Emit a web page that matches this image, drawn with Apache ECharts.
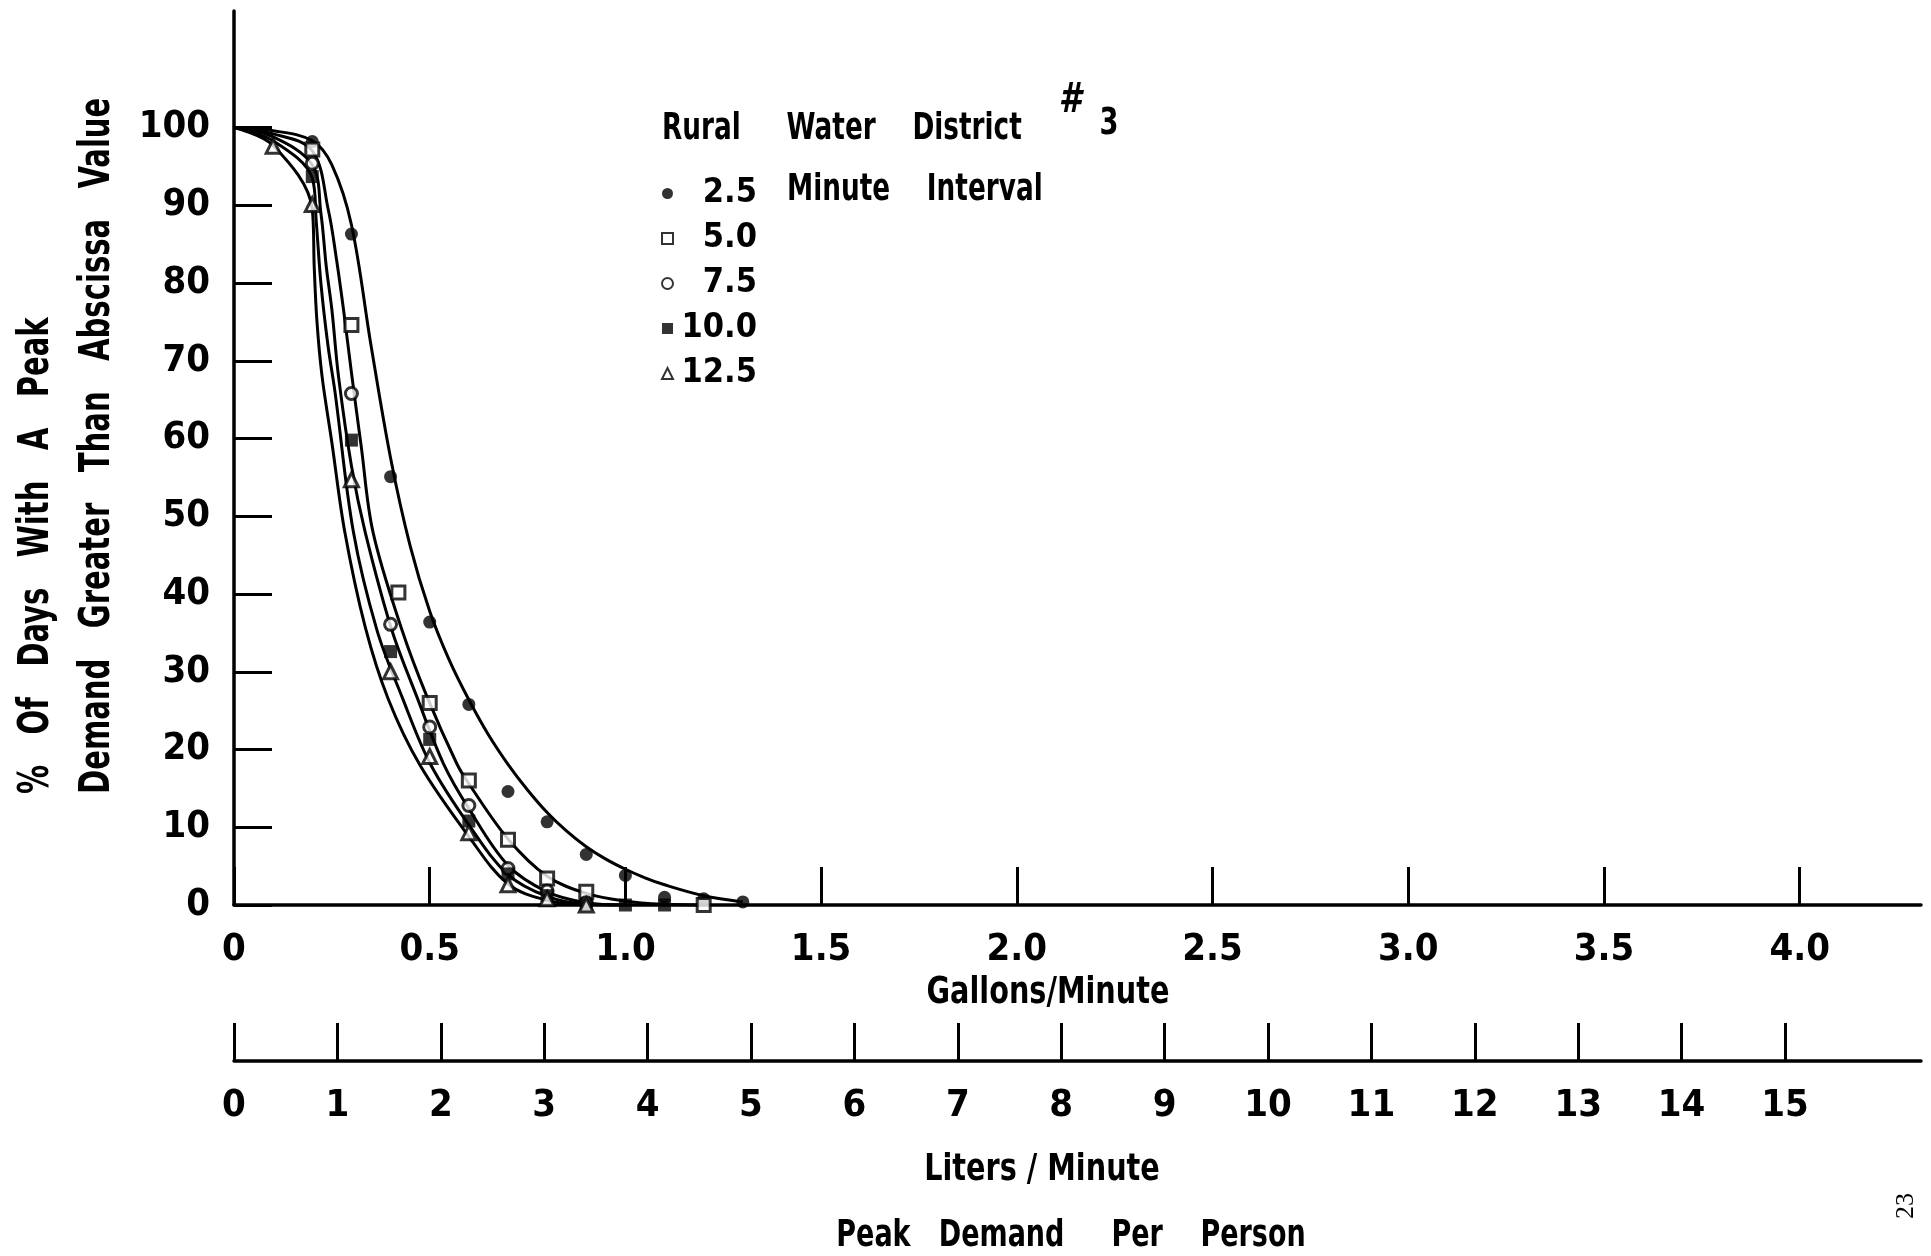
<!DOCTYPE html>
<html>
<head>
<meta charset="utf-8">
<script src="https://cdn.jsdelivr.net/npm/echarts@6/dist/echarts.min.js"></script>
<style>
  html, body { margin: 0; padding: 0; background: #fff; }
  #chart { width: 1931px; height: 1256px; }
</style>
</head>
<body>
<div id="chart"></div>
<script>
// Rural Water District #3 — peak demand per person, exceedance curves
// x: peak demand (gallons / minute), y: % of days with a greater peak demand

const intervals = ['2.5', '5.0', '7.5', '10.0', '12.5'];

// Observed points for each averaging interval (minutes)
const obs25  = [[0.2, 98.2], [0.3, 86.3], [0.4, 55.1], [0.5, 36.4], [0.6, 25.8], [0.7, 14.6],
                [0.8, 10.7], [0.9, 6.5], [1.0, 3.8], [1.1, 1.0], [1.2, 0.8], [1.3, 0.4]];
const obs50  = [[0.2, 97.2], [0.3, 74.6], [0.42, 40.2], [0.5, 26.0], [0.6, 16.0], [0.7, 8.4],
                [0.8, 3.4], [0.9, 1.7], [1.2, 0]];
const obs75  = [[0.2, 95.4], [0.3, 65.8], [0.4, 36.1], [0.5, 22.9], [0.6, 12.8], [0.7, 4.7],
                [0.8, 1.8], [0.9, 0.3]];
const obs100 = [[0.2, 93.7], [0.3, 59.8], [0.4, 32.6], [0.5, 21.3], [0.6, 10.8], [0.7, 4.0],
                [0.8, 1.2], [0.9, 0], [1.0, 0], [1.1, 0]];
const obs125 = [[0.1, 97.6], [0.2, 90.1], [0.3, 54.7], [0.4, 30.0], [0.5, 19.1], [0.6, 9.3],
                [0.7, 2.6], [0.8, 0.8], [0.9, 0]];

// Fitted curves through each set of points
const fit25  = [[0, 100], [0.1, 99.6], [0.2, 98.3], [0.25, 95.2], [0.3, 87.5], [0.35, 72], [0.4, 57.5],
                [0.45, 46.2], [0.5, 37.8], [0.55, 31.5], [0.6, 26.4], [0.65, 21.9], [0.7, 18.1],
                [0.75, 14.8], [0.8, 11.9], [0.85, 9.5], [0.9, 7.5], [0.95, 5.9], [1.0, 4.6],
                [1.05, 3.5], [1.1, 2.6], [1.2, 1.2], [1.3, 0.4]];
const fit50  = [[0, 100], [0.1, 99.2], [0.2, 97], [0.241, 89.4], [0.262, 83], [0.28, 76.5], [0.3, 68.5],
                [0.325, 59], [0.355, 48], [0.429, 35.4], [0.493, 26.8], [0.569, 18.2], [0.6, 15.6],
                [0.7, 8.5], [0.8, 3.7], [0.9, 1.5], [1.0, 0.5], [1.1, 0.1], [1.2, 0]];
const fit75  = [[0, 100], [0.1, 98.8], [0.2, 95.2], [0.222, 89], [0.236, 82], [0.25, 76.6], [0.267, 68],
                [0.3, 56.5], [0.335, 48], [0.403, 35.4], [0.467, 26.8], [0.535, 18.2], [0.6, 12.4],
                [0.7, 5.1], [0.8, 1.7], [0.9, 0.3], [1.0, 0]];
const fit100 = [[0, 100], [0.1, 98.3], [0.2, 93.5], [0.21, 88], [0.222, 80], [0.24, 72], [0.258, 66],
                [0.305, 48], [0.365, 35.4], [0.429, 26.8], [0.501, 18.2], [0.6, 10.3], [0.7, 3.9],
                [0.8, 1.1], [0.9, 0.1], [1.0, 0]];
const fit125 = [[0, 100], [0.1, 97.7], [0.2, 89.5], [0.205, 82], [0.212, 75], [0.225, 68], [0.25, 59.5],
                [0.283, 48], [0.335, 35.8], [0.394, 26.5], [0.475, 18], [0.6, 8.8], [0.7, 2.7],
                [0.8, 0.6], [0.9, 0]];

// Axis ticks
const percentTicks = [0, 10, 20, 30, 40, 50, 60, 70, 80, 90, 100];
const gallonTicks  = [0, 0.5, 1.0, 1.5, 2.0, 2.5, 3.0, 3.5, 4.0];
const literTicks   = [0, 1, 2, 3, 4, 5, 6, 7, 8, 9, 10, 11, 12, 13, 14, 15];

const GALLON_MAX = 4.31;
const LITERS_PER_GALLON = 3.78541;

const FONT = '"DejaVu Sans Condensed", "DejaVu Sans", sans-serif';

const observed = [obs25, obs50, obs75, obs100, obs125];
const fitted   = [fit25, fit50, fit75, fit100, fit125];

const markerStyle = [
  { symbol: 'circle',   size: 13, itemStyle: { color: '#000', borderColor: '#000', borderWidth: 0 } },
  { symbol: 'rect',     size: 13, itemStyle: { color: '#fff', borderColor: '#000', borderWidth: 3 } },
  { symbol: 'circle',   size: 12, itemStyle: { color: '#fff', borderColor: '#000', borderWidth: 3 } },
  { symbol: 'rect',     size: 13, itemStyle: { color: '#000', borderColor: '#000', borderWidth: 0 } },
  { symbol: 'triangle', size: 14, itemStyle: { color: '#fff', borderColor: '#000', borderWidth: 3 } }
];

const series = [];
intervals.forEach((name, i) => {
  series.push({
    type: 'line',
    name: name + ' curve',
    data: fitted[i],
    xAxisIndex: 0, yAxisIndex: 0,
    smooth: 0.35,
    symbol: 'none',
    silent: true,
    lineStyle: { color: '#000', width: 3 },
    z: 2
  });
});
intervals.forEach((name, i) => {
  const m = markerStyle[i];
  series.push({
    type: 'scatter',
    name: name,
    data: observed[i],
    xAxisIndex: 0, yAxisIndex: 0,
    symbol: m.symbol,
    symbolSize: m.size,
    itemStyle: m.itemStyle,
    silent: true,
    z: 3
  });
});

const axisLine = { show: true, onZero: false, lineStyle: { color: '#000', width: 3.5 } };
const tickStyle = { color: '#000', width: 3 };
const labelFont = { fontFamily: FONT, fontWeight: 'bold', fontSize: 38, color: '#000' };

// Lettering: condensed bold face, squeezed horizontally with scaleX
function lettering(text, x, y, size, squeeze, opts) {
  opts = opts || {};
  return {
    type: 'text', x: x, y: y, silent: true,
    scaleX: squeeze, scaleY: 1,
    rotation: opts.rotation || 0,
    style: {
      text: text, fill: '#000',
      font: (opts.italic ? 'italic ' : '') + 'bold ' + size + 'px ' + FONT,
      align: opts.align || 'center', verticalAlign: 'middle'
    }
  };
}

const option = {
  animation: false,
  backgroundColor: '#fff',
  grid: [
    { left: 234, right: 10, top: 11, bottom: 351, outerBoundsMode: 'none' },
    { left: 234, right: 10, top: 1000, height: 61, outerBoundsMode: 'none' }
  ],
  xAxis: [
    {
      type: 'value', gridIndex: 0, min: 0, max: GALLON_MAX,
      axisLine: axisLine,
      axisTick: { show: true, inside: true, length: 38, lineStyle: tickStyle, customValues: gallonTicks },
      axisLabel: Object.assign({ margin: 26, customValues: gallonTicks,
        formatter: v => (v === 0 ? '0' : v.toFixed(1)) }, labelFont),
      splitLine: { show: false }
    },
    {
      type: 'value', gridIndex: 1, min: 0, max: GALLON_MAX * LITERS_PER_GALLON,
      axisLine: axisLine,
      axisTick: { show: true, inside: true, length: 38, lineStyle: tickStyle, customValues: literTicks },
      axisLabel: Object.assign({ margin: 26, customValues: literTicks,
        formatter: v => String(Math.round(v)) }, labelFont),
      splitLine: { show: false }
    }
  ],
  yAxis: [
    {
      type: 'value', gridIndex: 0, min: 0, max: 115,
      axisLine: axisLine,
      axisTick: { show: true, inside: true, length: 38, lineStyle: tickStyle, customValues: percentTicks },
      axisLabel: Object.assign({ margin: 24, customValues: percentTicks }, labelFont),
      splitLine: { show: false }
    },
    { type: 'value', gridIndex: 1, show: false }
  ],
  legend: {
    data: intervals,
    orient: 'vertical',
    left: 656, top: 168,
    itemWidth: 11, itemHeight: 11, itemGap: 4,
    selectedMode: false,
    textStyle: {
      fontFamily: FONT, fontWeight: 'bold', fontSize: 34, color: '#000', lineHeight: 41,
      rich: {
        n: { fontFamily: FONT, fontWeight: 'bold', fontSize: 34, width: 79, align: 'right', lineHeight: 41 }
      }
    },
    formatter: name => '{n|' + name + '}'
  },
  graphic: [
    lettering('Rural     Water    District', 662, 129, 38, 0.77, { align: 'left' }),
    lettering('#', 1070, 102, 40, 0.9, { italic: true }),
    lettering('3', 1109, 124, 38, 0.8),
    lettering('Minute    Interval', 787, 190, 38, 0.77, { align: 'left' }),
    lettering('%   Of   Days   With   A   Peak', 37, 794, 42, 0.77,
      { align: 'left', rotation: Math.PI / 2 }),
    lettering('Demand   Greater   Than   Abscissa   Value', 98, 794, 42, 0.77,
      { align: 'left', rotation: Math.PI / 2 }),
    lettering('Gallons/Minute', 1048, 993, 38, 0.84),
    lettering('Liters / Minute', 1042, 1170, 38, 0.84),
    lettering('Peak   Demand     Per    Person', 1071, 1236, 38, 0.79),
    {
      type: 'text', x: 1906, y: 1206, rotation: Math.PI / 2, silent: true,
      style: { text: '23', fill: '#000', font: '26px "Liberation Serif", serif', align: 'center', verticalAlign: 'middle' }
    }
  ],
  series: series
};

const chart = echarts.init(document.getElementById('chart'));
chart.setOption(option);
</script>
</body>
</html>
